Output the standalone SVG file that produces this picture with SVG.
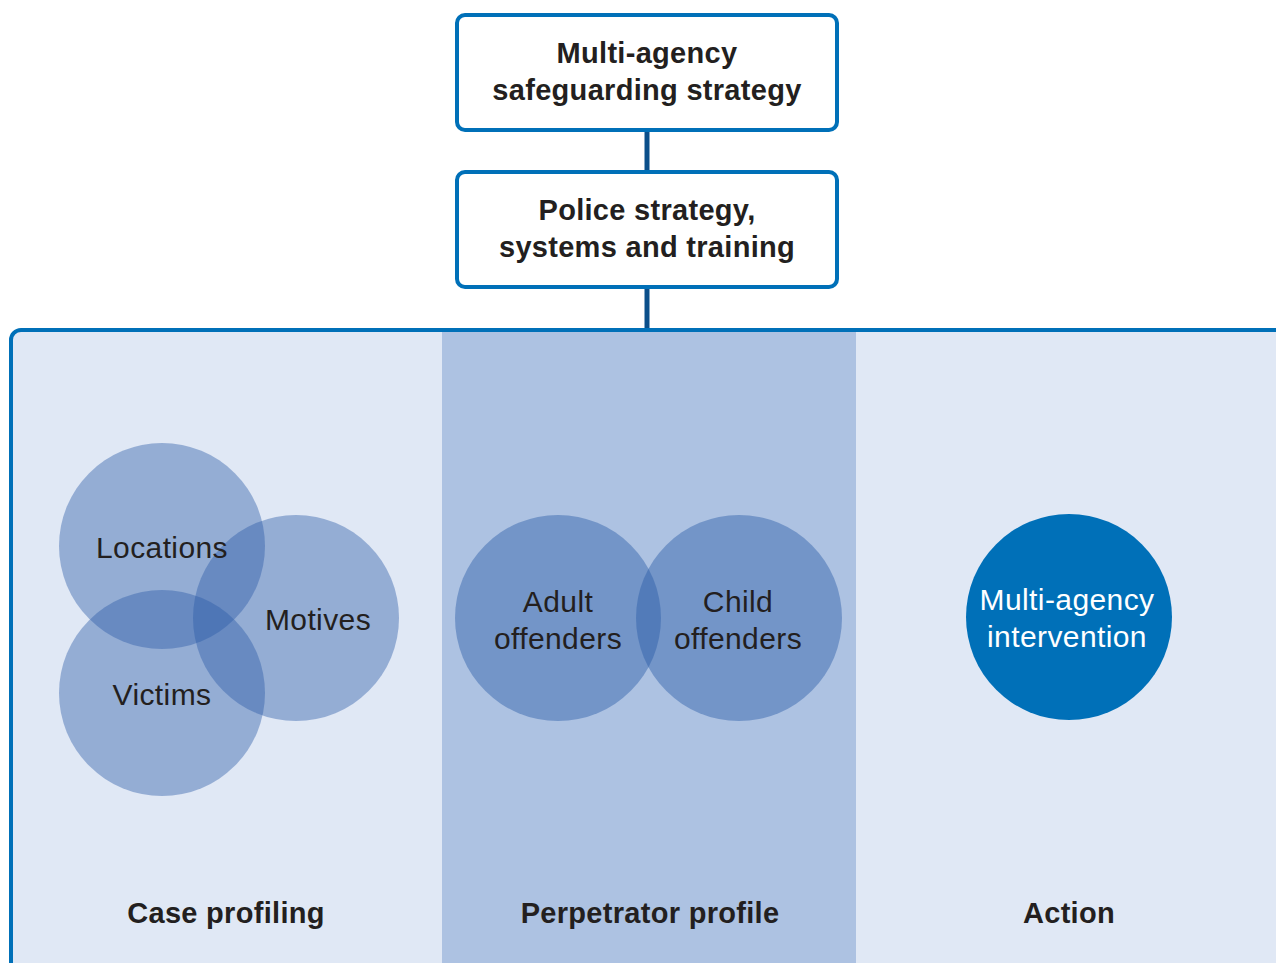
<svg xmlns="http://www.w3.org/2000/svg" width="1276" height="963" viewBox="0 0 1276 963">
<style>
.box{fill:#fff;stroke:#0070b8;stroke-width:4}
.conn{stroke:#0b4f8a;stroke-width:5;fill:none}
.bt{font-family:"Liberation Sans",Arial,sans-serif;font-weight:bold;font-size:29px;letter-spacing:0.3px;fill:#231f20;text-anchor:middle}
.ct{font-family:"Liberation Sans",Arial,sans-serif;font-size:30px;letter-spacing:0.4px;fill:#231f20;text-anchor:middle}
.wt{font-family:"Liberation Sans",Arial,sans-serif;font-size:30px;letter-spacing:0.4px;fill:#fff;text-anchor:middle}
.vc{fill:#2a5aa6;fill-opacity:0.42}
.pc{fill:#2a5aa6;fill-opacity:0.44}
</style>
<rect width="1276" height="963" fill="#fff"/>
<g id="connectors">
<line class="conn" x1="647" y1="131" x2="647" y2="172"/>
<line class="conn" x1="647" y1="288" x2="647" y2="331"/>
</g>
<g id="panel">
<rect x="11" y="330" width="1320" height="700" rx="10" fill="#e0e8f5" stroke="#0070b8" stroke-width="4"/>
<rect x="442" y="332" width="414" height="640" fill="#adc2e2"/>
</g>
<g id="node-safeguarding">
<rect class="box" x="457" y="15" width="380" height="115" rx="8"/>
<text class="bt" x="647" y="63">Multi-agency</text>
<text class="bt" x="647" y="100">safeguarding strategy</text>
</g>
<g id="node-police">
<rect class="box" x="457" y="172" width="380" height="115" rx="8"/>
<text class="bt" x="647" y="220">Police strategy,</text>
<text class="bt" x="647" y="257">systems and training</text>
</g>
<g id="case-profiling">
<circle class="vc" cx="162" cy="546" r="103"/>
<circle class="vc" cx="296" cy="618" r="103"/>
<circle class="vc" cx="162" cy="693" r="103"/>
<text class="ct" x="162" y="558">Locations</text>
<text class="ct" x="318" y="630">Motives</text>
<text class="ct" x="162" y="705">Victims</text>
<text class="bt" x="226" y="923">Case profiling</text>
</g>
<g id="perpetrator-profile">
<circle class="pc" cx="558" cy="618" r="103"/>
<circle class="pc" cx="739" cy="618" r="103"/>
<text class="ct" x="558" y="612">Adult</text>
<text class="ct" x="558" y="649">offenders</text>
<text class="ct" x="738" y="612">Child</text>
<text class="ct" x="738" y="649">offenders</text>
<text class="bt" x="650" y="923">Perpetrator profile</text>
</g>
<g id="action">
<circle cx="1069" cy="617" r="103" fill="#0070b8"/>
<text class="wt" x="1067" y="610">Multi-agency</text>
<text class="wt" x="1067" y="647">intervention</text>
<text class="bt" x="1069" y="923">Action</text>
</g>
</svg>
